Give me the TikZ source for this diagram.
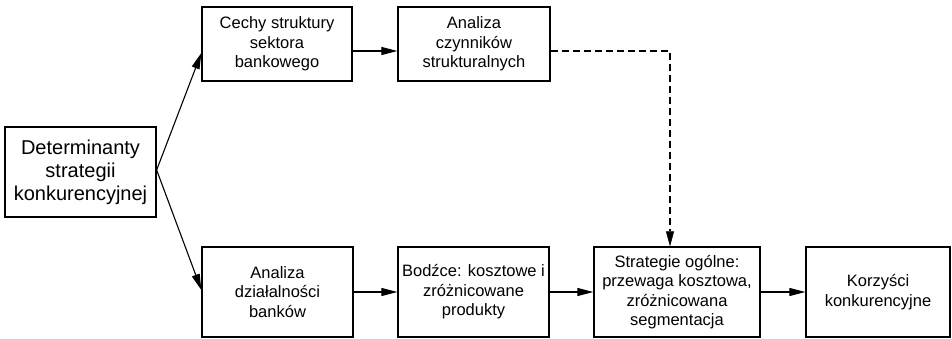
\documentclass[tikz,border=0pt]{standalone}
\usepackage{fontspec}
\setmainfont{Liberation Sans}
\usetikzlibrary{arrows.meta}
\begin{document}
\begin{tikzpicture}[x=1pt,y=-1pt,
  box/.style={draw,line width=1.3pt,inner sep=0pt,align=center,
    font=\fontsize{16.5}{19.5}\selectfont},
  bigbox/.style={box,font=\fontsize{20}{23}\selectfont},
  link/.style={line width=1.1pt,-{Triangle[length=16pt,width=8pt]}},
  dashlink/.style={line width=2.3pt,dash pattern=on 7pt off 4pt,
    -{Triangle[length=15pt,width=8pt,line width=0.5pt]}}]
\useasboundingbox (0,0) rectangle (952,338);

% upper row
\node[box,minimum width=150pt,minimum height=74pt] (cechy) at (277,44)
  {Cechy struktury\\sektora\\bankowego};
\node[box,minimum width=152pt,minimum height=74pt] (czyn) at (474,44)
  {Analiza\\czynników\\strukturalnych};

% starting box
\node[bigbox,minimum width=151pt,minimum height=90pt] (det) at (80.5,172)
  {Determinanty\\strategii\\konkurencyjnej};

% lower row
\node[box,minimum width=151pt,minimum height=90pt] (dzial) at (277.5,292)
  {Analiza\\działalności\\banków};
\node[box,minimum width=151pt,minimum height=90pt] (bodz) at (473.5,292)
  {Bodźce: kosztowe i\\zróżnicowane\\produkty};
\node[box,minimum width=166pt,minimum height=90pt] (strat) at (677,292)
  {Strategie ogólne:\\przewaga kosztowa,\\zróżnicowana\\segmentacja};
\node[box,minimum width=144pt,minimum height=90pt] (korz) at (878,292)
  {Korzyści\\konkurencyjne};

% connectors
\draw[link] ([yshift=2pt]det.east) -- ([yshift=-9pt]cechy.west);
\draw[link] ([yshift=2pt]det.east) -- ([yshift=2pt]dzial.west);
\draw[link] ([yshift=-7pt]cechy.east) -- ([yshift=-7pt]czyn.west);
\draw[dashlink] ([yshift=-7pt]czyn.east) -| ([xshift=-7pt]strat.north);
\draw[link] (dzial.east) -- (bodz.west);
\draw[link] (bodz.east) -- (strat.west);
\draw[link] (strat.east) -- (korz.west);
\end{tikzpicture}
\end{document}
